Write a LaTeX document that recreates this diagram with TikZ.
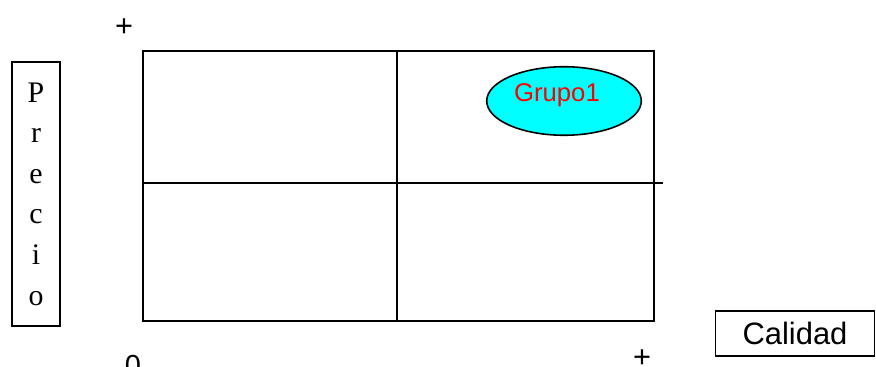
\documentclass[tikz,border=0pt]{standalone}
\usepackage{fontspec}
\setmainfont{Liberation Serif}
\newfontfamily\arialfont{Liberation Sans}
\usetikzlibrary{shapes.geometric}
\definecolor{aqua}{RGB}{0,255,255}
\begin{document}
\begin{tikzpicture}[x=0.02cm, y=-0.02cm, line width=0.9pt]
    \useasboundingbox (0,0) rectangle (876,367);
    \clip (0,0) rectangle (876,367);

    \coordinate (TL) at (143,51);
    \coordinate (BR) at (654,321);
    \coordinate (MT) at (397,51);
    \coordinate (MB) at (397,321);
    \coordinate (ML) at (143,183);
    \coordinate (MR) at (663,183);
    \draw (TL) rectangle (BR);
    \draw (MT) -- (MB);
    \draw (ML) -- (MR);

    \node[ellipse, draw=black, fill=aqua, minimum width=88pt, minimum height=39pt] (G1) at (564,101) {};
    \node[text=red, font=\arialfont\fontsize{14.6}{16}\selectfont] (G1txt) at (557,95) {Grupo1};

    \node[draw, minimum width=27pt, minimum height=150pt, align=center,
          font=\fontsize{17}{23.1}\selectfont] (Precio) at (36,194) {P\\r\\e\\c\\i\\o};
    \node[draw, minimum width=90.5pt, minimum height=25.5pt,
          font=\arialfont\fontsize{17.6}{20}\selectfont] (Calidad) at (795,333.5) {Calidad};

    \node[font=\arialfont\fontsize{17.5}{20}\selectfont] (plusY) at (124,27.5) {+};
    \node[font=\arialfont\fontsize{17.5}{20}\selectfont] (plusX) at (642,359) {+};
    \node[font=\arialfont\fontsize{16.5}{20}\selectfont, anchor=north] (cero) at (133,349) {0};
\end{tikzpicture}
\end{document}
